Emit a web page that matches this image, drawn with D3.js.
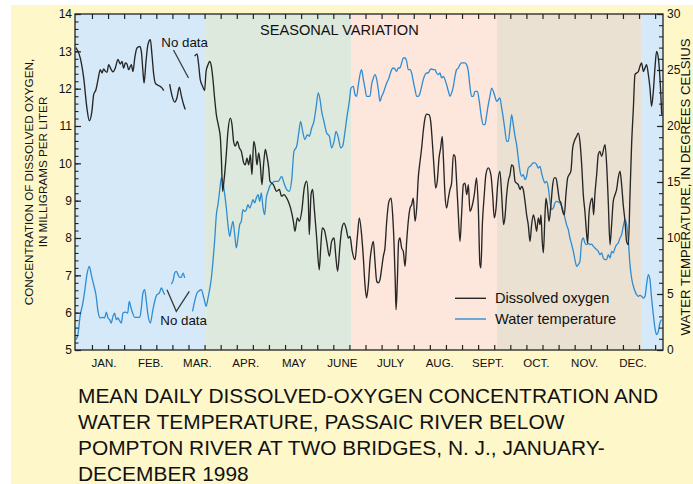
<!DOCTYPE html>
<html><head><meta charset="utf-8">
<script src="https://cdn.jsdelivr.net/npm/d3@7"></script>
<style>
html,body{margin:0;padding:0;background:#fff;}
svg{display:block;font-family:"Liberation Sans",Arial,Helvetica,sans-serif;}
</style>
</head><body>
<svg id="chart" width="693" height="484"></svg>
<script>
// ---------------- DATA ----------------
const monthNames = ["JAN.","FEB.","MAR.","APR.","MAY","JUNE","JULY","AUG.","SEPT.","OCT.","NOV.","DEC."];
const doTickValues = [5,6,7,8,9,10,11,12,13,14];
const tempTickValues = [0,5,10,15,20,25,30];

// season boundaries (day of year) and names
const seasonStartDays = [0, 81, 171, 261.5, 351];
const seasonEndDays   = [81, 171, 261.5, 351, 365];
const seasonNames = ["winter","spring","summer","fall","winter"];

// mean daily dissolved oxygen, mg/L (null = no data)
const oxygenDays = [0,2.7,4.8,6.8,8.3,9.9,11,12.4,13.7,15.1,16.2,17.2,18.2,19.3,20.3,21.9,23,24.4,26.1,27.5,28.6,29.6,30.7,31.7,32.7,34.4,35.4,36.5,37.9,39.6,40.6,41.6,42.3,43.5,44.7,46.2,47.2,48.3,49.3,50.9,52.4,53.4,54.5,
56,
58.2,59.6,61.3,62.7,64.2,65.4,66.9,67.9,
70,
73.7,75.2,76.2,77.2,78.7,79.9,80.8,82,83,84.1,85.1,86.1,87.2,88.6,89.7,90.3,91.1,91.9,93.2,94.4,95.9,96.9,97.9,99,100.2,101.5,102.7,104.2,105.2,106.2,107.3,108.3,109.3,110.4,111.4,112.4,113.5,114.5,115.5,116.6,117.6,118.6,119.7,
120.5,122.6,124.6,126.3,127.7,129.2,130.9,131.9,133.3,135,136,137.5,138.7,140.2,141.8,143.3,144.3,144.9,146,147,148,149.5,151.1,152,153,154.2,155.7,157.4,158.8,160.3,161.3,162.5,164,165,166.5,167.7,169.2,170.2,171.6,173.3,174.7,176,177.4,178.5,179.5,180.5,181.6,182.6,183.6,184.7,185.7,186.8,187.8,188.8,189.9,190.9,191.9,193,194.4,195.7,196.7,197.5,198.3,198.8,199.6,200.4,201.2,202.3,203.3,204.4,205.4,206.4,207.5,208.5,209.5,210.6,211.6,212.6,213.7,214.7,215.7,216.8,217.8,219.3,220.3,221.3,222.4,223.4,224.4,225.5,226.5,227.5,228.2,229.2,230.2,231.3,232.3,233.3,234.4,235.4,236.4,237.5,238.5,239.5,240.6,241.6,242.7,243.7,
244.7,245.7,247.4,248.8,249.9,250.9,251.5,252.4,253.6,254.6,256.1,257.7,258.8,259.8,260.9,261.9,263.3,264.4,265.6,266.4,267.5,268.5,269.6,270.6,271.6,272.7,273.7,274.7,275.8,276.8,277.8,278.9,279.9,280.9,282,283,284.1,285.1,286.1,287.2,288.2,288.8,289.6,290.3,291.3,291.9,292.9,293.8,295,296.1,297.1,298.1,299.2,300.2,301.2,302.3,303.3,304.3,305.4,306.4,307.4,308.5,309.5,310.9,312,313,314.1,315.1,316.1,317.2,317.8,318.6,319.7,320.7,321.5,322.3,323.4,324.4,325.4,326.5,328.6,329.6,330.6,331.7,332.7,333.7,334.8,335.8,336.8,337.9,338.9,339.9,341,342,343.1,344.1,345.1,346.2,347.2,348.2,349.3,350.3,351.3,352.4,353.4,354.4,355.5,356.5,357.5,358.6,359.6,360.6,361.7,362.7,363.8];
const oxygenValues = [13.10,12.82,12.29,11.48,11.14,11.39,11.84,11.97,12.24,12.51,12.42,12.53,12.47,12.44,12.64,12.51,12.45,12.55,12.78,12.66,12.73,12.55,12.69,12.66,12.51,12.64,12.46,12.82,13.09,13.13,13.0,12.46,12.15,12.73,13.18,13.31,12.91,12.38,12.15,12.09,12.06,12.02,11.95,
null,
12.12,11.82,11.64,11.75,12.04,11.82,11.57,11.44,
null,
12.87,12.93,12.64,12.24,12.06,11.95,12.46,12.64,12.73,12.6,12.24,11.75,11.3,10.99,10.68,10.14,9.25,9.52,10.14,10.86,11.21,11.04,10.59,10.46,10.59,10.41,10.32,10.01,9.96,10.14,9.96,10.23,9.7,10.59,10.41,9.96,10.28,9.96,9.43,10.01,10.37,10.19,9.88,
9.52,9.43,9.25,9.3,9.12,9.16,9.07,8.98,8.8,8.45,8.18,8.54,8.45,8.71,9.34,9.52,9.03,8.09,9.16,9.3,8.8,8.0,7.15,7.73,8.27,8.22,7.91,7.51,7.91,8.0,7.55,7.11,7.82,8.22,8.4,8.27,8.0,8.04,7.64,7.42,8.0,8.54,8.09,7.46,6.75,6.4,6.75,7.38,7.73,7.91,7.38,6.84,6.8,6.88,7.2,7.51,7.73,8.45,8.98,9.07,8.62,7.91,6.84,6.08,6.84,7.91,8.0,7.73,7.64,7.24,7.91,8.45,8.8,8.89,9.07,8.45,8.8,9.61,10.05,10.41,10.86,11.21,11.32,11.3,11.13,10.59,9.88,9.34,9.52,10.14,10.41,10.72,10.14,9.16,8.8,9.07,9.3,9.47,10.23,10.19,9.52,8.62,7.91,8.62,9.43,9.47,9.16,9.43,
8.71,8.8,9.16,9.61,8.8,7.29,7.2,8.36,9.16,9.7,9.88,9.7,9.16,8.54,8.8,9.43,9.79,9.16,8.36,8.54,9.16,9.52,9.7,9.96,9.92,9.52,9.47,9.43,9.3,9.38,9.3,8.98,8.62,8.36,7.91,8.36,8.62,8.45,8.18,8.54,8.36,8.62,7.91,7.6,8.62,9.07,8.8,8.45,8.89,9.43,9.61,9.61,9.34,9.03,8.94,8.71,8.62,9.16,9.61,9.7,9.79,10.41,10.59,10.72,10.81,10.59,9.96,9.16,8.71,8.09,7.87,8.62,8.98,9.07,8.62,9.16,9.7,10.23,10.32,10.19,10.5,9.96,8.98,7.82,8.36,8.98,9.16,9.3,9.61,9.79,9.43,8.89,8.45,7.91,7.82,9.16,10.5,11.48,12.38,12.42,12.46,12.6,12.69,12.46,12.55,12.64,12.38,12.02,11.53,11.93,12.55,13.0,12.82,12.29,11.3];

// mean daily water temperature, degrees Celsius (null = no data)
const temperatureDays = [0,1.2,2.7,4.1,5.4,6.8,8.3,9.5,11,12.4,13.7,15.1,16.6,17.8,18.9,19.9,20.9,21.9,23,24,25.1,26.1,27.1,28.2,29.2,30.7,32.1,33.1,34.2,35.2,36.5,37.9,39.6,40.6,41.6,42.7,43.7,44.7,46.2,47.6,48.9,50.3,51.8,53,54.1,55.1,
57,
59.2,60.3,61.3,62.3,63.4,64.4,65.4,66.5,67.5,
70,
72.4,73.7,75.2,76.6,77.9,78.9,79.9,80.8,82,83,84.1,85.1,86.1,87.2,88.2,89.2,90.3,91.3,92.4,93.4,94.4,95.5,96.5,97.5,98.6,99.6,100.6,101.7,102.7,103.7,104.8,105.8,106.8,107.9,108.9,109.9,111,112,113.1,114.1,115.1,116.2,117.2,118.2,119.3,120.3,121.3,123.6,125.7,127.7,129.2,130.9,132.5,134,135.4,137.1,138.5,139.5,140.8,142.2,143.7,144.9,146.4,147.8,149.1,150.5,151.6,152.6,154,155.7,157.4,158.8,160.3,161.5,163,164.4,165.6,167.1,168.5,169.8,170.8,172.3,173.3,174.3,175.4,176.4,177.4,178.5,179.5,180.5,182.6,183.6,184.7,185.7,186.8,187.8,188.8,189.9,190.9,191.9,193,194,195,196.1,197.1,198.1,199.2,200.2,201.2,202.3,203.3,204.4,205.4,206.4,207.5,208.5,209.5,210.6,211.6,212.6,213.7,214.7,215.7,216.8,217.8,218.8,219.9,220.9,221.9,223,224,225,226.1,227.1,228.2,229.2,230.2,231.3,232.3,233.3,234.4,235.4,236.4,237.5,238.5,239.5,240.6,241.6,242.6,243.7,244.7,245.7,246.8,247.8,249.3,250.5,251.9,253,254,255.1,256.1,257.1,258.2,259.2,260.2,261.3,262.3,263.3,264.4,265.4,266.4,267.5,268.5,269.6,270.6,271.6,272.7,273.7,274.7,275.8,276.8,277.8,278.9,279.9,280.9,282,283,284,285.1,286.1,287.1,288.2,289.2,290.3,291.3,292.3,293.4,294.4,295.4,296.5,297.5,298.5,299.6,300.6,301.6,302.7,303.7,304.7,305.8,306.8,307.9,308.9,309.9,311,312,313,314.1,315.1,316.1,317.2,318.2,319.2,320.3,321.3,322.3,323.4,324.4,325.4,326.5,327.5,328.6,329.6,330.6,331.7,332.7,333.7,334.8,335.8,336.8,337.9,338.9,339.9,341,342,343.1,344.1,345.1,346.2,347.2,348.2,349.3,350.3,351.3,352.4,353.4,354.4,355.5,356.5,357.5,358.6,359.6,360.6,361.7,362.7,363.8];
const temperatureValues = [0.92,1.37,3.15,4.05,5.24,6.73,7.47,6.73,5.83,4.94,3.45,2.86,2.92,2.86,3.39,2.86,2.71,2.41,3.0,3.3,2.71,2.86,2.62,2.41,3.3,3.39,3.3,4.35,3.75,3.3,2.92,2.92,2.92,3.75,5.09,5.39,4.35,3.15,2.41,3.45,4.35,4.94,5.09,5.54,5.24,4.94,
null,
5.89,6.19,6.87,7.02,6.73,6.49,6.49,6.87,6.43,
null,
3.45,4.35,5.09,5.3,5.39,4.94,4.35,3.9,4.64,5.39,6.43,7.92,9.7,12.08,12.98,14.17,15.36,14.91,13.87,12.68,11.19,10.15,10.89,11.49,10.3,9.11,10.0,11.19,11.49,12.53,12.38,12.53,12.98,12.68,12.98,13.42,13.13,13.57,13.87,13.27,14.02,12.68,12.08,13.57,14.17,14.61,14.82,15.06,15.06,15.51,14.91,14.32,14.17,15.21,17.74,18.19,19.52,20.42,19.52,18.78,19.23,19.08,19.82,20.42,21.61,22.95,22.35,21.31,20.42,19.38,19.08,18.04,18.63,19.52,18.93,18.04,18.19,19.52,21.01,22.2,23.39,23.54,22.8,22.65,23.69,24.58,25.03,24.14,23.39,22.65,22.65,23.69,24.29,24.58,24.14,23.24,22.2,22.65,22.95,23.39,23.84,24.14,24.58,25.03,25.18,25.09,24.88,25.18,25.18,25.63,26.07,26.07,25.77,25.03,25.03,24.73,23.99,23.24,22.65,22.65,22.95,23.54,24.14,24.58,24.73,24.73,25.03,25.09,25.03,25.03,24.73,24.58,24.73,24.29,24.43,24.14,23.69,23.1,22.65,22.95,23.54,24.43,25.03,25.18,25.48,25.63,25.63,25.63,25.48,24.88,23.54,22.65,22.65,23.1,23.1,22.2,20.71,20.12,20.12,21.01,21.9,22.65,23.39,23.1,22.65,22.2,22.35,22.5,21.61,20.71,19.67,18.63,18.63,19.82,21.01,20.12,19.08,18.33,17.14,15.95,15.51,15.66,15.21,15.51,16.25,16.4,16.55,16.7,16.7,16.55,16.25,16.4,15.8,15.21,14.91,15.06,14.46,13.27,12.53,12.68,13.12,13.27,13.21,13.12,12.83,12.38,11.79,11.19,10.74,10.0,9.4,8.81,8.07,7.47,7.62,7.92,9.7,10.0,9.55,9.4,9.55,9.4,9.46,9.26,9.11,8.96,8.81,8.51,8.66,8.21,8.07,8.07,8.51,8.21,8.81,8.66,9.11,9.4,9.55,10.0,10.3,11.04,11.64,11.19,9.7,7.62,6.43,5.69,5.24,4.94,4.79,4.88,4.79,4.64,4.79,5.83,6.73,6.28,4.64,3.15,1.96,1.37,1.66,2.41,2.71];

const legendLabels = ["Dissolved oxygen","Water temperature"];
const captionLines = [
  "MEAN DAILY DISSOLVED-OXYGEN CONCENTRATION AND",
  "WATER TEMPERATURE, PASSAIC RIVER BELOW",
  "POMPTON RIVER AT TWO BRIDGES, N. J., JANUARY-",
  "DECEMBER 1998"
];

// ---------------- LAYOUT / STYLE ----------------
const W = 693, H = 484;
const plot = {left: 75, right: 663, top: 14, bottom: 350};
const seasonColor = {winter:"#d6e9f8", spring:"#dde9dc", summer:"#fde6dc", fall:"#eae1d2"};
const oxyColor = "#262626", tempColor = "#2f8cd2", axisColor = "#222";

const svg = d3.select("#chart");

// background
svg.append("rect").attr("x",0).attr("y",0).attr("width",W).attr("height",H).attr("fill","#fff");
svg.append("rect").attr("x",11).attr("y",5).attr("width",W-11).attr("height",H-5).attr("fill","#fdf7ca");

// scales
const x = d3.scaleLinear().domain([-0.6, 364.6]).range([plot.left, plot.right]);
const yDO = d3.scaleLinear().domain([5, 14]).range([plot.bottom, plot.top]);
const yT = d3.scaleLinear().domain([0, 30]).range([plot.bottom, plot.top]);
// calendar scale used for the month labels and date ticks
const xCal = d3.scaleTime().domain([new Date(1998,0,1), new Date(1999,0,1)]).range([79.45, 657.5]);

// seasons
svg.append("g").selectAll("rect").data(seasonNames).join("rect")
  .attr("x", (d,i) => i === 0 ? plot.left : x(seasonStartDays[i]))
  .attr("y", plot.top)
  .attr("width", (d,i) => (i === seasonNames.length-1 ? plot.right : x(seasonEndDays[i])) - (i === 0 ? plot.left : x(seasonStartDays[i])))
  .attr("height", plot.bottom - plot.top)
  .attr("fill", d => seasonColor[d]);

// lines
const oxyData = oxygenDays.map((d,i) => ({day:d, v:oxygenValues[i]}));
const tempData = temperatureDays.map((d,i) => ({day:d, v:temperatureValues[i]}));

svg.append("path").datum(tempData)
  .attr("fill","none").attr("stroke",tempColor).attr("stroke-width",1.3).attr("stroke-linejoin","round")
  .attr("d", d3.line().defined(d => d.v !== null).x(d => x(d.day)).y(d => yT(d.v)).curve(d3.curveMonotoneX));

svg.append("path").datum(oxyData)
  .attr("fill","none").attr("stroke",oxyColor).attr("stroke-width",1.35).attr("stroke-linejoin","round")
  .attr("d", d3.line().defined(d => d.v !== null).x(d => x(d.day)).y(d => yDO(d.v)).curve(d3.curveMonotoneX));

// axes
const fontAxis = 12;
const leftMinor = d3.range(5, 14.001, 0.2).map(v => +v.toFixed(1));
svg.append("g").attr("transform",`translate(${plot.left},0)`)
  .call(d3.axisLeft(yDO).tickValues(leftMinor).tickSize(-3.5).tickFormat(""))
  .call(g => g.select(".domain").remove())
  .call(g => g.selectAll("line").attr("stroke",axisColor).attr("stroke-width",1.1));
svg.append("g").attr("transform",`translate(${plot.left},0)`)
  .call(d3.axisLeft(yDO).tickValues(doTickValues).tickSize(-6).tickPadding(3).tickFormat(d3.format("d")))
  .call(g => g.select(".domain").remove())
  .call(g => g.selectAll("line").attr("stroke",axisColor).attr("stroke-width",1.2))
  .call(g => g.selectAll("text").attr("font-size",fontAxis).attr("fill","#111").attr("font-family","Liberation Sans, Arial, sans-serif"));

const rightMinor = d3.range(0, 31, 1);
svg.append("g").attr("transform",`translate(${plot.right},0)`)
  .call(d3.axisRight(yT).tickValues(rightMinor).tickSize(-4).tickFormat(""))
  .call(g => g.select(".domain").remove())
  .call(g => g.selectAll("line").attr("stroke",axisColor).attr("stroke-width",1.1));
svg.append("g").attr("transform",`translate(${plot.right},0)`)
  .call(d3.axisRight(yT).tickValues(tempTickValues).tickSize(-6).tickPadding(4).tickFormat(d3.format("d")))
  .call(g => g.select(".domain").remove())
  .call(g => g.selectAll("line").attr("stroke",axisColor).attr("stroke-width",1.2))
  .call(g => g.selectAll("text").attr("font-size",fontAxis).attr("fill","#111").attr("font-family","Liberation Sans, Arial, sans-serif"));

// date ticks: three per month (every ~10 days)
const dayMs = 86400000;
const tickDates = d3.range(36).map(k => new Date(new Date(1998,0,1).getTime() + (7.9 + k*10.16)*dayMs));
svg.append("g").attr("transform",`translate(0,${plot.bottom})`)
  .call(d3.axisBottom(xCal).tickValues(tickDates).tickSize(-5).tickFormat(""))
  .call(g => g.select(".domain").remove())
  .call(g => g.selectAll("line").attr("stroke",axisColor).attr("stroke-width",1.2));
svg.append("g").attr("transform",`translate(0,${plot.top})`)
  .call(d3.axisTop(xCal).tickValues(tickDates).tickSize(-5).tickFormat(""))
  .call(g => g.select(".domain").remove())
  .call(g => g.selectAll("line").attr("stroke",axisColor).attr("stroke-width",1.2));

// month labels
svg.append("g").selectAll("text").data(monthNames).join("text")
  .attr("x", (d,i) => xCal(new Date((new Date(1998,i,1).getTime() + new Date(1998,i+1,1).getTime())/2)))
  .attr("y", 367)
  .attr("text-anchor","middle").attr("font-size",11.5).attr("fill","#111")
  .text(d => d);

// frame
svg.append("rect").attr("x",plot.left).attr("y",plot.top)
  .attr("width",plot.right-plot.left).attr("height",plot.bottom-plot.top)
  .attr("fill","none").attr("stroke",axisColor).attr("stroke-width",1.3);

// axis titles
svg.append("text").attr("transform","translate(33,182) rotate(-90)")
  .attr("text-anchor","middle").attr("font-size",11.7).attr("fill","#111")
  .text("CONCENTRATION OF DISSOLVED OXYGEN,");
svg.append("text").attr("transform","translate(47,172) rotate(-90)")
  .attr("text-anchor","middle").attr("font-size",11.7).attr("fill","#111")
  .text("IN MILLIGRAMS PER LITER");
svg.append("text").attr("transform","translate(690,187) rotate(-90)")
  .attr("text-anchor","middle").attr("font-size",13.2).attr("fill","#111")
  .text("WATER TEMPERATURE, IN DEGREES CELSIUS");

// seasonal title
svg.append("text").attr("x",260).attr("y",35).attr("font-size",14.6).attr("fill","#111")
  .text("SEASONAL VARIATION");

// no data annotations
svg.append("text").attr("x",161.3).attr("y",47).attr("font-size",13.3).attr("fill","#111").text("No data");
svg.append("line").attr("x1",173.5).attr("y1",50).attr("x2",188.5).attr("y2",78)
  .attr("stroke","#3a3a3a").attr("stroke-width",1.3);
svg.append("text").attr("x",160.3).attr("y",324.5).attr("font-size",13.3).attr("fill","#111").text("No data");
svg.append("polyline").attr("points","167,289.7 176.3,311.3 189.3,291.3")
  .attr("fill","none").attr("stroke","#3a3a3a").attr("stroke-width",1.3);

// legend
const legend = svg.append("g");
legendLabels.forEach((lab,i) => {
  const yy = 298.3 + i*20.7;
  legend.append("line").attr("x1",455).attr("x2",486).attr("y1",yy).attr("y2",yy)
    .attr("stroke", i === 0 ? oxyColor : tempColor).attr("stroke-width",1.4);
  legend.append("text").attr("x",495).attr("y",yy+4.8).attr("font-size",14.6).attr("fill","#111").text(lab);
});

// caption
svg.append("g").selectAll("text").data(captionLines).join("text")
  .attr("x",78).attr("y",(d,i) => 403 + i*26)
  .attr("font-size",20.9).attr("fill","#111")
  .text(d => d);
</script>
</body></html>
